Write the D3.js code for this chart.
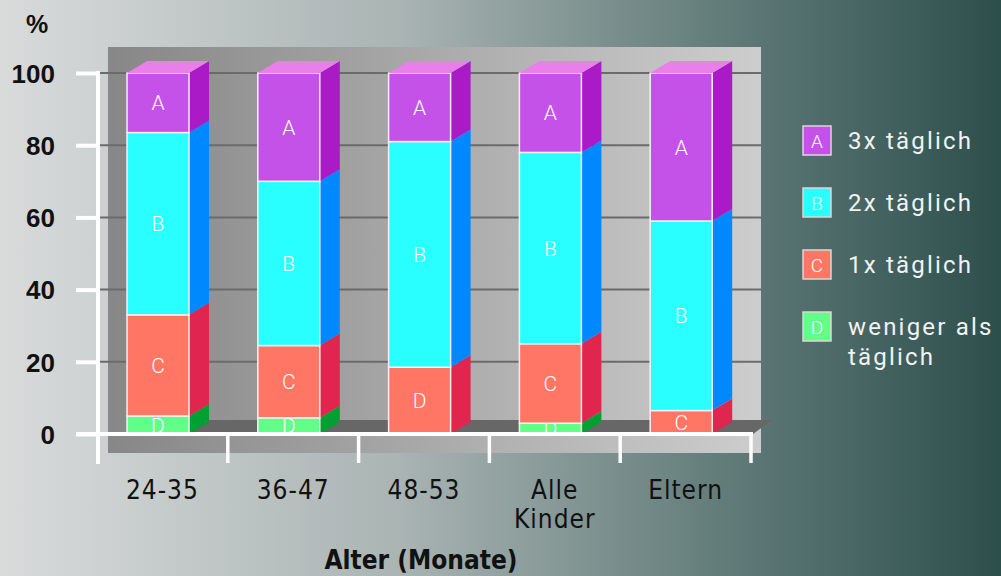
<!DOCTYPE html>
<html lang="de">
<head>
<meta charset="UTF-8">
<title>Zähneputzen nach Alter</title>
<script src="https://d3js.org/d3.v7.min.js"></script>
<style>
  html, body { margin: 0; padding: 0; }
  body { width: 1001px; height: 576px; overflow: hidden; }
  .narrow { font-family: "Liberation Sans Narrow", "DejaVu Sans Condensed", "Liberation Sans", sans-serif; }
  .seg-label { font-family: Roboto, "Open Sans", sans-serif; font-weight: 300; fill: #fff; text-anchor: middle; }
  .legend-text { font-family: Roboto, "Open Sans", sans-serif; fill: #f2f2f2; letter-spacing: 2.2px; }
</style>
</head>
<body>
<div id="chart"></div>
<script>
// data (percent)
const categories = ["24-35", "36-47", "48-53", "Alle Kinder", "Eltern"];
const dreimal = [16.5, 30, 19, 22, 41];      // A 3x täglich
const zweimal = [50.5, 45.5, 62.5, 53, 52.5]; // B 2x täglich
const einmal  = [28, 20, 18.5, 22, 6.5];      // C 1x täglich
const weniger = [5, 4.5, 0, 3, 0];            // D weniger als täglich
const yTicks = [0, 20, 40, 60, 80, 100];
// the third bar's lowest segment carries the letter "D" in the original
const labelOverride = { "48-53": { C: "D" } };

const keys = ["D", "C", "B", "A"]; // stacking order, bottom to top
const seriesValues = { A: dreimal, B: zweimal, C: einmal, D: weniger };
const legendItems = [
  { key: "A", text: ["3x täglich"] },
  { key: "B", text: ["2x täglich"] },
  { key: "C", text: ["1x täglich"] },
  { key: "D", text: ["weniger als", "täglich"] }
];
const front = { A: "#c452e8", B: "#2affff", C: "#ff7664", D: "#62ff88" };
const side  = { A: "#aa1ac6", B: "#0088ff", C: "#e0264e", D: "#00a032" };
const topFace = "#e97fe9";

const W = 1001, H = 576;
const svg = d3.select("#chart").append("svg").attr("width", W).attr("height", H);
const defs = svg.append("defs");

const bg = defs.append("linearGradient").attr("id", "bg");
bg.append("stop").attr("offset", "0%").attr("stop-color", "#d9dbdb");
bg.append("stop").attr("offset", "40%").attr("stop-color", "#a9b4b3");
bg.append("stop").attr("offset", "72%").attr("stop-color", "#627c7a");
bg.append("stop").attr("offset", "100%").attr("stop-color", "#2d4f4c");
svg.append("rect").attr("width", W).attr("height", H).attr("fill", "url(#bg)");

const panelGrad = defs.append("linearGradient").attr("id", "panel");
panelGrad.append("stop").attr("offset", "0%").attr("stop-color", "#878787");
panelGrad.append("stop").attr("offset", "100%").attr("stop-color", "#cdcdcd");

const x = d3.scaleBand().domain(categories).range([97, 751]).padding(0);
const y = d3.scaleLinear().domain([0, 100]).range([434, 73]);
const barW = 62, barOff = 30, dx = 20, dy = -12;

// back wall
svg.append("rect").attr("x", 108).attr("y", 47).attr("width", 653).attr("height", 406)
  .attr("fill", "url(#panel)");

// gridlines
svg.append("g").selectAll("line").data(yTicks.filter(d => d > 0)).join("line")
  .attr("x1", 100).attr("x2", 761)
  .attr("y1", d => y(d)).attr("y2", d => y(d))
  .attr("stroke", "#6b6b6b").attr("stroke-width", 2);

// floor
svg.append("path")
  .attr("d", `M125,${y(0)} L753,${y(0)} L772,${y(0) - 14} L144,${y(0) - 14} Z`)
  .attr("fill", "#676767");

// stacked 3d bars
const rows = categories.map((c, i) => {
  const r = { cat: c };
  keys.forEach(k => r[k] = seriesValues[k][i]);
  return r;
});
const stacked = d3.stack().keys(keys)(rows);
const bars = svg.append("g");

categories.forEach((cat, i) => {
  const x0 = x(cat) + barOff, x1 = x0 + barW;
  const g = bars.append("g");
  const segs = stacked.map(s => ({ key: s.key, lo: s[i][0], hi: s[i][1] }))
    .filter(s => s.hi - s.lo > 0);
  segs.forEach(s => {
    const yb = y(s.lo), yt = y(s.hi);
    g.append("path")
      .attr("d", `M${x1},${yb} L${x1 + dx},${yb + dy} L${x1 + dx},${yt + dy} L${x1},${yt} Z`)
      .attr("fill", side[s.key]);
    g.append("rect")
      .attr("x", x0).attr("y", yt).attr("width", barW).attr("height", yb - yt)
      .attr("fill", front[s.key]).attr("stroke", "#f6eef6").attr("stroke-width", 1.5);
    const lab = (labelOverride[cat] && labelOverride[cat][s.key]) || s.key;
    g.append("text").attr("class", "seg-label")
      .attr("x", x0 + barW / 2).attr("y", (yb + yt) / 2).attr("dy", "0.36em")
      .style("font-size", "21px").text(lab);
  });
  const top = y(segs[segs.length - 1].hi);
  g.append("path")
    .attr("d", `M${x0},${top} L${x1},${top} L${x1 + dx},${top + dy} L${x0 + dx},${top + dy} Z`)
    .attr("fill", topFace);
});

// y axis
const yAxis = svg.append("g").attr("transform", "translate(98,0)")
  .call(d3.axisLeft(y).tickValues(yTicks).tickSize(22).tickPadding(21));
yAxis.select(".domain").remove();
yAxis.append("line").attr("x1", 0).attr("x2", 0).attr("y1", y(100) - 2).attr("y2", 464)
  .attr("stroke", "#fff").attr("stroke-width", 4);
yAxis.selectAll(".tick line").attr("stroke", "#fff").attr("stroke-width", 4);
yAxis.selectAll(".tick text")
  .attr("font-family", "Liberation Sans, Arial, sans-serif")
  .attr("font-weight", "bold").attr("font-size", 26).attr("fill", "#111")
  .attr("dy", "0.36em");

svg.append("text").attr("x", 37).attr("y", 33)
  .attr("text-anchor", "middle")
  .attr("font-family", "Liberation Sans, Arial, sans-serif")
  .attr("font-weight", "bold").attr("font-size", 25).attr("fill", "#111").text("%");

// x axis
svg.append("line").attr("x1", 76).attr("x2", 753).attr("y1", y(0)).attr("y2", y(0))
  .attr("stroke", "#fff").attr("stroke-width", 4);
const bounds = categories.map(c => x(c)).concat([x.range()[1]]);
svg.append("g").selectAll("line").data(bounds.slice(1)).join("line")
  .attr("x1", d => d).attr("x2", d => d)
  .attr("y1", y(0)).attr("y2", 463)
  .attr("stroke", "#fff").attr("stroke-width", 3.5);

const xl = svg.append("g").selectAll("text").data(categories).join("text")
  .attr("class", "narrow")
  .attr("x", d => x(d) + x.bandwidth() / 2)
  .attr("y", 499)
  .attr("text-anchor", "middle").attr("font-size", 26).attr("fill", "#111")
  .attr("letter-spacing", 1);
xl.selectAll("tspan").data(d => d.split(" ")).join("tspan")
  .attr("x", function() { return this.parentNode.getAttribute("x"); })
  .attr("dy", (d, i) => i === 0 ? 0 : 29)
  .text(d => d);

svg.append("text").attr("class", "narrow")
  .attr("x", 421).attr("y", 569).attr("text-anchor", "middle")
  .attr("font-weight", "bold").attr("font-size", 26).attr("fill", "#111")
  .text("Alter (Monate)");

// legend
const lg = svg.append("g").selectAll("g").data(legendItems).join("g")
  .attr("transform", (d, i) => `translate(803,${126 + i * 62})`);
lg.append("rect").attr("width", 28).attr("height", 29)
  .attr("fill", d => front[d.key]).attr("stroke", "#d8d8d8").attr("stroke-width", 1.5);
lg.append("text").attr("class", "seg-label")
  .attr("x", 14).attr("y", 15).attr("dy", "0.36em")
  .style("font-size", "19px").text(d => d.key);
lg.append("text").attr("class", "legend-text")
  .attr("x", 45).attr("y", 23).attr("font-size", 24)
  .selectAll("tspan").data(d => d.text).join("tspan")
  .attr("x", 45).attr("dy", (d, i) => i === 0 ? 0 : 30)
  .text(d => d);
</script>
</body>
</html>
